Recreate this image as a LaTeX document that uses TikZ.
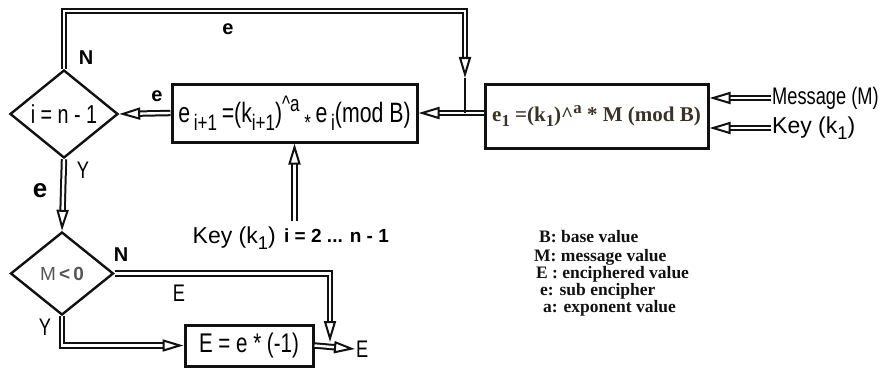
\documentclass[tikz,border=0pt]{standalone}
\usepackage{fontspec}
\usepackage{graphicx}
\setmainfont{Liberation Sans}
\newfontfamily\narrowfont{Liberation Sans}[FakeStretch=0.76]
\newfontfamily\legendfont{Liberation Serif}
\usetikzlibrary{arrows.meta, shapes.geometric, calc}
\definecolor{fcink}{HTML}{111111}
\definecolor{fcbrown}{HTML}{3A3226}
\definecolor{fcgray}{HTML}{555555}
\newcommand{\lo}[1]{\raisebox{-0.5ex}{\scalebox{0.8}{#1}}}
\newcommand{\hi}[1]{\raisebox{0.8ex}{\scalebox{0.8}{#1}}}

\begin{document}
\begin{tikzpicture}[
  x=1pt, y=-1pt,
  box/.style={rectangle, draw=fcink, line width=3pt, inner sep=0pt, minimum width=#1},
  test/.style={diamond, draw=fcink, line width=2.4pt, inner sep=0pt},
  dbl/.style={draw=fcink, double=white, double distance=2.4pt, line width=2pt, -{Triangle[open, length=21pt, width=12pt]}},
  lbl/.style={font=\narrowfont\fontsize{24}{26}\selectfont, inner sep=1pt},
  klbl/.style={font=\fontsize{23}{25}\selectfont, inner sep=1pt},
  blbl/.style={font=\bfseries\fontsize{20}{22}\selectfont, inner sep=1pt},
]
  \useasboundingbox (0,0) rectangle (885,369);

  % Loop test
  \node[test, minimum width=108pt, minimum height=88pt,
        font=\narrowfont\fontsize{26}{28}\selectfont] (last) at (64,114) {i = n - 1};

  % Round step
  \node[box=245pt, minimum height=58pt,
        font=\narrowfont\fontsize{28}{30}\selectfont] (round) at (294.5,113)
        {e\lo{\,i+1}\,=(k\lo{i+1})\hi{\textasciicircum a}\,\lo{*}\,e\lo{\,i}(mod B)};

  % First step
  \node[box=223pt, minimum height=64pt, text=fcbrown,
        font=\legendfont\bfseries\fontsize{21}{23}\selectfont] (first) at (596.5,116)
        {e\lo{1} =(k\lo{1})\textasciicircum\hi{a} * M (mod B)};

  % Inputs
  \node[lbl, anchor=west] (msg) at (771,98) {Message (M)};
  \node[klbl, anchor=west] (key) at (771,128) {Key (k\lo{1})};
  \node[klbl, anchor=east] (rkey) at (277,238) {Key (k\lo{1})};
  \node[blbl, font=\bfseries\fontsize{19}{21}\selectfont, anchor=west] (range) at (283,236) {i = 2 ... n - 1};

  % Sign test
  \node[test, minimum width=103pt, minimum height=83pt, text=fcgray,
        font=\fontsize{19}{21}\selectfont] (sign) at (62,273.5) {M\,\textbf{<\,0}};

  % Negation
  \node[box=128pt, minimum height=41pt,
        font=\narrowfont\fontsize{27}{29}\selectfont] (neg) at (249,345.5) {E = e * (-1)};

  % Output
  \node[lbl, anchor=west] (out) at (355,349) {E};

  % Legend
  \node[anchor=north west, align=left, inner sep=0pt,
        font=\legendfont\bfseries\fontsize{17.5}{15.5}\selectfont, text=fcink] (legend) at (534,230)
        {\hspace*{5pt}B: base value\\[4pt]
         M: message value\\
         \hspace*{2pt}E : enciphered value\\
         \hspace*{6pt}e: sub encipher\\
         \hspace*{9pt}a: exponent value};

  \coordinate (loopin) at (465,78);
  \coordinate (merge) at (330,342);

  % Arrows
  \draw[dbl] (msg.west) -- (msg.west -| first.east);
  \draw[dbl] (key.west) -- (key.west -| first.east);
  \draw[dbl] (first.west |- round.east) -- (round.east);
  \draw[dbl] (last.north) -- ++(0,-58) -| (loopin);
  \draw[fcink, line width=2pt] (loopin) -- (loopin |- round.east);
  \draw[dbl] (rkey.north -| round.south) ++(0,-4) -- (round.south);
  \draw[dbl] (round.west) -- (last.east);
  \draw[dbl] (last.south) -- (sign.north);
  \draw[dbl] (sign.east) -| (merge);
  \draw[dbl] (sign.south) |- (neg.west);
  \draw[dbl] (neg.east) -- (out.west);

  % Labels
  \node[blbl] (lbe1) at (228,29) {e};
  \node[blbl] (lbn1) at (86,58) {N};
  \node[blbl] (lbe2) at (157,96) {e};
  \node[lbl] (lby1) at (83,170) {Y};
  \node[font=\bfseries\fontsize{26}{28}\selectfont] (lbe3) at (40,191) {e};
  \node[blbl] (lbn2) at (121,255) {N};
  \node[lbl] (lbe4) at (179,293) {E};
  \node[lbl] (lby2) at (45,327) {Y};
\end{tikzpicture}
\end{document}
